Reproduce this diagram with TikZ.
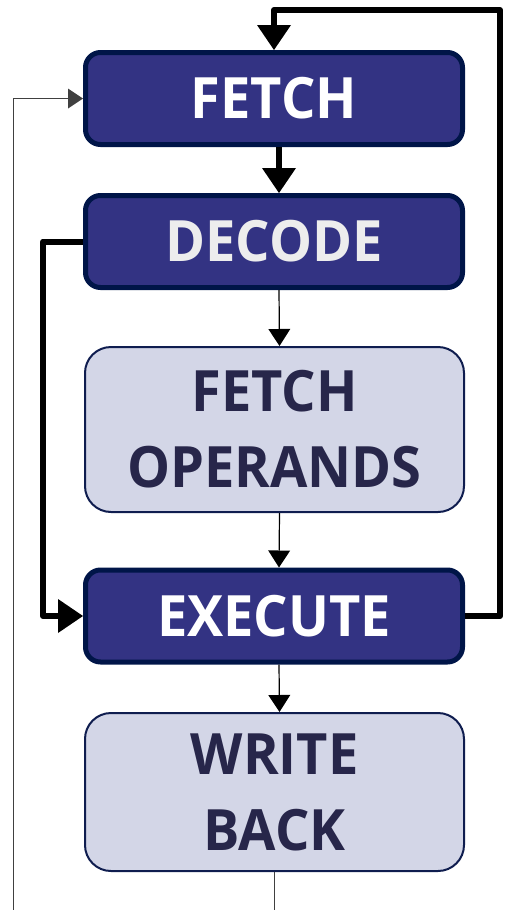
\documentclass[tikz,border=0pt]{standalone}
\usepackage{fontspec}
\setmainfont{Open Sans}[FakeStretch=0.95]
\usetikzlibrary{arrows.meta}
\definecolor{darkfill}{HTML}{333383}
\definecolor{darkedge}{HTML}{001548}
\definecolor{lightfill}{HTML}{D3D6E7}
\definecolor{lightedge}{HTML}{0F1D4F}
\definecolor{darktext}{HTML}{27264A}
\definecolor{greytext}{HTML}{EDEDED}
\tikzset{
  darkbox/.style={draw=darkedge, fill=darkfill, line width=5pt, rounded corners=15pt,
    minimum width=377pt, minimum height=92pt, text=white, inner sep=0pt,
    font=\fontsize{57}{78}\selectfont\bfseries},
  lightbox/.style={draw=lightedge, fill=lightfill, line width=2pt, rounded corners=26pt,
    minimum width=379pt, text=darktext, inner sep=0pt, align=center,
    font=\fontsize{57}{76}\selectfont\bfseries},
  thickarrow/.style={line width=6pt, line join=round,
    -{Triangle[length=25pt,width=34pt,line width=0pt]}},
  thinarrow/.style={line width=1.2pt,
    -{Triangle[length=17pt,width=22pt,line width=0pt]}},
  loopline/.style={line width=1pt, black!75,
    -{Triangle[length=15pt,width=20pt,line width=0pt]}},
}
\begin{document}
\begin{tikzpicture}[x=1pt,y=-1pt]
\useasboundingbox (0,0) rectangle (505,910);
\node[darkbox] (fetch) at (274,98.5) {FETCH};
\node[darkbox, text=greytext] (decode) at (274,241.5) {DECODE};
\node[lightbox, minimum height=165pt] (fo) at (274.5,429.5) {FETCH\\OPERANDS};
\node[darkbox] (exec) at (274,616) {EXECUTE};
\node[lightbox, minimum height=158pt] (wb) at (274.5,792) {WRITE\\BACK};
\coordinate (ltop) at (43,241.5);
\coordinate (rtop) at (500,10);
\coordinate (lbot) at (13,960);
\draw[thickarrow] ([xshift=5pt]fetch.south) -- ([xshift=5pt]decode.north);
\draw[thinarrow] ([xshift=5pt]decode.south) -- ([xshift=5pt]fo.north);
\draw[thinarrow] ([xshift=5pt]fo.south) -- ([xshift=5pt]exec.north);
\draw[thinarrow] ([xshift=5pt]exec.south) -- ([xshift=5pt]wb.north);
\draw[thickarrow] (decode.west) -| (ltop |- exec.west) -- (exec.west);
\draw[thickarrow] (exec.east) -| (rtop) -| (fetch.north);
\draw[loopline] (wb.south) |- (lbot) |- (fetch.west);
\end{tikzpicture}
\end{document}
